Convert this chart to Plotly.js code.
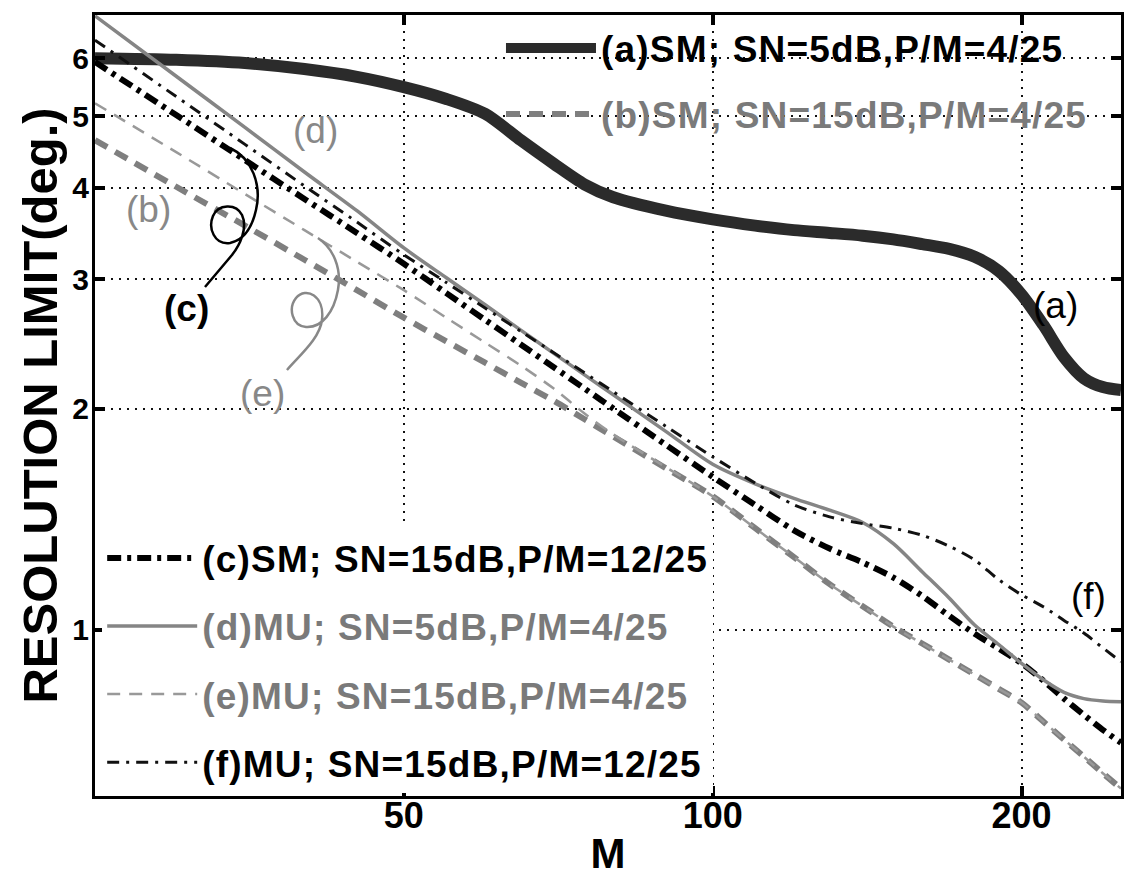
<!DOCTYPE html>
<html>
<head>
<meta charset="utf-8">
<script src="https://cdn.plot.ly/plotly-3.0.1.min.js"></script>
<style>html,body{margin:0;padding:0;background:#fff;}#chart{width:1127px;height:888px;}</style>
</head>
<body>
<div id="chart"></div>
<script>
// Number of sensors M (x axis)
const M = [25,30,35,40,45,50,55,60,65,70,75,80,90,100,110,120,130,140,150,160,170,180,190,200,210,220,230,240,250];
// (a) SM; SN=5dB, P/M=4/25
const aSM5 = [6.00,5.97,5.91,5.80,5.66,5.48,5.28,5.04,4.64,4.31,4.04,3.88,3.72,3.62,3.55,3.50,3.47,3.44,3.40,3.35,3.30,3.22,3.08,2.86,2.60,2.35,2.20,2.14,2.12];
// (b) SM; SN=15dB, P/M=4/25
const bSM15 = [4.64,4.01,3.55,3.19,2.90,2.66,2.47,2.31,2.17,2.05,1.935,1.833,1.66,1.52,1.375,1.256,1.154,1.077,1.01,0.958,0.911,0.869,0.831,0.796,0.750,0.709,0.672,0.638,0.608];
// (c) SM; SN=15dB, P/M=12/25
const cSM15 = [5.93,5.02,4.36,3.86,3.47,3.15,2.873,2.642,2.446,2.277,2.13,2.001,1.786,1.615,1.479,1.366,1.29,1.235,1.178,1.112,1.045,0.988,0.943,0.90,0.853,0.806,0.766,0.731,0.702];
// (d) MU; SN=5dB, P/M=4/25
const dMU5 = [6.85,5.67,4.83,4.20,3.72,3.31,3.015,2.77,2.558,2.379,2.224,2.089,1.863,1.68,1.58,1.51,1.455,1.40,1.31,1.20,1.105,1.015,0.955,0.90,0.855,0.822,0.806,0.80,0.798];
// (e) MU; SN=15dB, P/M=4/25
const eMU15 = [5.21,4.47,3.92,3.50,3.17,2.90,2.66,2.46,2.29,2.13,1.97,1.845,1.665,1.52,1.375,1.256,1.154,1.077,1.01,0.958,0.911,0.869,0.831,0.796,0.750,0.709,0.672,0.638,0.608];
// (f) MU; SN=15dB, P/M=12/25
const fMU15 = [6.35,5.32,4.58,4.02,3.59,3.24,2.97,2.742,2.549,2.383,2.238,2.109,1.893,1.72,1.584,1.48,1.425,1.395,1.375,1.345,1.30,1.245,1.17,1.116,1.075,1.03,0.99,0.945,0.905];

const legendNames = [
  '(a)SM; SN=5dB,P/M=4/25',
  '(b)SM; SN=15dB,P/M=4/25',
  '(c)SM; SN=15dB,P/M=12/25',
  '(d)MU; SN=5dB,P/M=4/25',
  '(e)MU; SN=15dB,P/M=4/25',
  '(f)MU; SN=15dB,P/M=12/25'
];
const xTicks = [50,100,200];
const yTicks = [1,2,3,4,5,6];

const GRAY = '#858585';
const TXTGRAY = '#7a7a7a';
function nm(t, col, sp){ return '<span style="color:'+col+';letter-spacing:'+sp+'px">'+t+'</span>'; }

const traces = [
  {y:aSM5, name:nm(legendNames[0],'#000',1.2), legend:'legend', legendrank:1, line:{color:'#2b2b2b', width:12}},
  {y:bSM15, name:nm(legendNames[1],TXTGRAY,1.2), legend:'legend', legendrank:2, line:{color:'#7f7f7f', width:6, dash:'14px,9px'}},
  {y:cSM15, name:nm(legendNames[2],'#000',1.2), legend:'legend2', legendrank:3, line:{color:'#000', width:6, dash:'14px,6px,4px,6px'}},
  {y:dMU5, name:nm(legendNames[3],TXTGRAY,1.2), legend:'legend2', legendrank:4, line:{color:GRAY, width:3.5}},
  {y:eMU15, name:nm(legendNames[4],TXTGRAY,1.2), legend:'legend2', legendrank:5, line:{color:'#999', width:2.5, dash:'13px,9px'}},
  {y:fMU15, name:nm(legendNames[5],'#000',1.2), legend:'legend2', legendrank:6, line:{color:'#111', width:3, dash:'12px,7px,3px,7px'}}
].map((t,i)=>Object.assign({x:M, type:'scatter', mode:'lines', legendgroup:'g'+i, hoverinfo:'skip'}, t, {line:Object.assign({shape:'spline', smoothing:0.8}, t.line)}));

// plot-area geometry used only for decorations (callout squiggles, legend backdrop)
const PL=95, PW=1026, PT=15, PH=781;
const px = x => (x-PL)/PW, py = y => (PT+PH-y)/PH;
function pathPx(cmds){
  return cmds.map(c=> typeof c==='string' ? c : px(c[0]).toFixed(4)+','+py(c[1]).toFixed(4)).join(' ');
}
const cCallout = pathPx(['M',[230,148],'C',[252,158],[262,185],[256,210],'C',[252,228],[244,240],[230,243],'C',[214,245],[208,228],[213,216],'C',[218,204],[236,203],[242,215],'C',[248,228],[240,245],[232,255],'L',[205,287]]);
const eCallout = pathPx(['M',[318,238],'C',[333,248],[342,268],[338,290],'C',[334,312],[322,328],[306,327],'C',[292,326],[288,308],[296,298],'C',[306,286],[325,296],[322,320],'C',[320,338],[300,355],[287,370]]);

const lbl = (t, m, v, col, bold) => ({x:Math.log10(m), y:Math.log10(v), xref:'x', yref:'y', text:t, showarrow:false,
  font:{size:37, color:col, weight: bold?'bold':'normal'}});

const F = '"Liberation Sans", Arial, Helvetica, sans-serif';
const layout = {
  width:1127, height:888,
  margin:{l:95, r:6, t:15, b:92, pad:0},
  paper_bgcolor:'#fff', plot_bgcolor:'#fff',
  font:{family:F, color:'#000'},
  showlegend:true,
  xaxis:{type:'log', range:[Math.log10(25), Math.log10(250)], tickvals:xTicks, ticktext:xTicks.map(String),
    tickfont:{size:36, weight:'bold'}, ticks:'inside', ticklen:10, tickwidth:4, tickcolor:'#000', ticklabelstandoff:-14,
    showline:true, linewidth:3, linecolor:'#000', mirror:'ticks',
    showgrid:true, gridcolor:'#111', gridwidth:2, griddash:'2px,6px', zeroline:false,
    title:{text:'M', font:{size:42, weight:'bold'}, standoff:4}},
  yaxis:{type:'log', range:[Math.log10(0.594), Math.log10(6.87)], tickvals:yTicks, ticktext:yTicks.map(String),
    tickfont:{size:30, weight:'bold'}, ticks:'inside', ticklen:10, tickwidth:4, tickcolor:'#000', ticklabelstandoff:-3,
    showline:true, linewidth:3, linecolor:'#000', mirror:'ticks',
    showgrid:true, gridcolor:'#111', gridwidth:2, griddash:'2px,6px', zeroline:false,
    title:{text:'RESOLUTION LIMIT(deg.)', font:{size:49, weight:'bold'}, standoff:0}},
  legend:{x:0.3957, y:0.997, xanchor:'left', yanchor:'top', bgcolor:'rgba(255,255,255,0)', borderwidth:0,
    font:{size:37, weight:'bold', family:F}, itemwidth:90, traceorder:'grouped', tracegroupgap:15},
  legend2:{x:0.007, y:0.344, xanchor:'left', yanchor:'top', bgcolor:'#fff', borderwidth:0,
    font:{size:37, weight:'bold', family:F}, itemwidth:90, traceorder:'grouped', tracegroupgap:17},
  annotations:[
    lbl('(d)', 41, 4.79, '#888', false),
    lbl('(b)', 28.2, 3.73, '#888', false),
    lbl('(c)', 30.7, 2.74, '#000', true),
    lbl('(e)', 36.4, 2.10, '#888', false),
    lbl('(a)', 216, 2.76, '#000', false),
    lbl('(f)', 232.6, 1.11, '#000', false)
  ],
  shapes:[
    // white backdrop that hides the grid behind the upper legend (drawn under the curves)
    {type:'rect', xref:'paper', yref:'paper', layer:'between', x0:px(503), x1:px(1114), y0:py(130), y1:py(18), fillcolor:'#fff', line:{width:0}},
    {type:'path', xref:'paper', yref:'paper', path:cCallout, line:{color:'#000', width:2.5}},
    {type:'path', xref:'paper', yref:'paper', path:eCallout, line:{color:'#888', width:2.5}}
  ]
};
Plotly.newPlot('chart', traces, layout, {staticPlot:true, displayModeBar:false});
</script>
</body>
</html>
